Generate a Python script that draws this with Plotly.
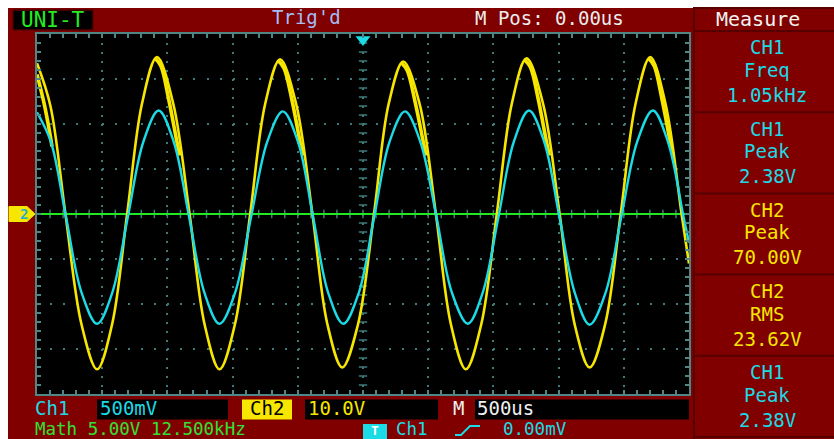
import plotly.graph_objects as go

# ---- acquisition settings -------------------------------------------------
TIME_PER_DIV = 500.0      # us / div
CH1_V_PER_DIV = 0.5       # V / div
CH2_V_PER_DIV = 10.0      # V / div
H_DIVS, V_DIVS = 10, 8

# ---- waveform samples (time in us, amplitude in V) -------------------------
CH2_T = [-2500, -2397, -2282, -2159, -2039, -1924, -1809, -1695, -1580, -1455,
         -1330, -1215, -1100, -982, -865, -750, -636, -513, -388, -273,
         -159, -38, 84, 197, 309, 434, 559, 674, 789, 907,
         1026, 1141, 1254, 1381, 1508, 1623, 1738, 1857, 1976, 2090,
         2203, 2320, 2443, 2500]
CH2_V = [33.5, 24.0, 0.0, -24.5, -34.5, -24.5, 0.0, 24.5, 34.9, 24.5,
         0.0, -24.5, -34.5, -24.5, 0.0, 24.5, 34.4, 24.5, 0.0, -24.5,
         -34.1, -24.5, 0.0, 24.5, 33.9, 24.5, 0.0, -24.5, -34.5, -24.5,
         0.0, 24.5, 34.6, 24.5, 0.0, -24.5, -34.1, -24.5, 0.0, 24.5,
         34.9, 24.5, 0.0, -11.0]

# jittered second edge seen on the falling side of each CH2 crest
CH2_JIT_T = [-2500, -2445, -2405, -2385, None,
             -1595, -1550, -1490, -1430, -1405, None,
             -651, -606, -546, -486, -461, None,
             294, 339, 399, 459, 484, None,
             1239, 1284, 1344, 1404, 1429, None,
             2188, 2233, 2293, 2353, 2378]
CH2_JIT_V = [31.0, 24.5, 18.5, 15.0, None,
             34.6, 32.9, 25.5, 16.5, 13.0, None,
             34.1, 32.4, 25.5, 16.5, 13.0, None,
             33.6, 31.9, 25.0, 16.5, 13.0, None,
             34.3, 32.6, 25.5, 16.5, 13.0, None,
             34.6, 32.9, 25.5, 16.5, 13.0]

CH1_T = [-2500, -2393, -2278, -2159, -2039, -1922, -1803, -1685, -1567, -1451,
         -1334, -1217, -1100, -980, -858, -735, -615, -498, -383, -268,
         -151, -31, 86, 203, 322, 440, 563, 681, 804, 919,
         1039, 1156, 1273, 1390, 1506, 1623, 1738, 1861, 1981, 2102,
         2223, 2339, 2458, 2500]
CH1_V = [1.13, 0.80, -0.03, -0.87, -1.22, -0.87, -0.03, 0.80, 1.15, 0.80,
         -0.03, -0.87, -1.22, -0.87, -0.03, 0.80, 1.14, 0.80, -0.03, -0.87,
         -1.22, -0.87, -0.03, 0.80, 1.14, 0.80, -0.03, -0.87, -1.22, -0.87,
         -0.03, 0.80, 1.15, 0.80, -0.03, -0.87, -1.23, -0.87, -0.03, 0.80,
         1.15, 0.80, -0.03, -0.32]

MATH_T = [-2500, 2500]
MATH_V = [0.0, 0.0]
TRIG_T = [0.0]

# ---- readouts -------------------------------------------------------------
MEAS_SRC = ["CH1", "CH1", "CH2", "CH2", "CH1"]
MEAS_KIND = ["Freq", "Peak", "Peak", "RMS", "Peak"]
MEAS_VAL = ["1.05kHz", "2.38V", "70.00V", "23.62V", "2.38V"]

CH1_SCALE = "500mV"
CH2_SCALE = "10.0V"
TIME_SCALE = "500us"
MATH_INFO = "Math 5.00V 12.500kHz"
TRIG_LEVEL = "0.00mV"
MPOS = "M Pos: 0.00us"

# ---- look -----------------------------------------------------------------
RED = "#800000"
RED_DARK = "#560000"
CYAN = "#1adbe6"
YELLOW = "#f7e600"
GREEN = "#22e822"
GRID = "#3f7a7a"
FRAME = "#4f8787"
MONO = "DejaVu Sans Mono"

W_FIG, H_FIG = 834, 439
L, T, W, H = 37, 34, 652, 360
R, B = W_FIG - L - W, H_FIG - T - H

x_half = H_DIVS / 2 * TIME_PER_DIV
y2_half = V_DIVS / 2 * CH2_V_PER_DIV
y1_half = V_DIVS / 2 * CH1_V_PER_DIV
px_per_v2 = H / (2 * y2_half)


def px(x):
    return (x - L) / W


def py(y):
    return (T + H - y) / H


def rect(x0, y0, x1, y1, fill, line=None, lw=0):
    return dict(type="rect", xref="paper", yref="paper",
                x0=px(x0), x1=px(x1), y0=py(y1), y1=py(y0),
                fillcolor=fill, line=dict(color=line or fill, width=lw),
                layer="above")


def hline(x0, x1, y, color, lw=2):
    return dict(type="line", xref="paper", yref="paper",
                x0=px(x0), x1=px(x1), y0=py(y), y1=py(y),
                line=dict(color=color, width=lw), layer="above")


def ann(text, x, y, color, size=21, xanchor="center"):
    return dict(text=text, x=px(x), y=py(y), xref="paper", yref="paper",
                showarrow=False, xanchor=xanchor, yanchor="middle",
                borderpad=0,
                font=dict(family=MONO, size=size, color=color))


fig = go.Figure()

# centre-cross graduation marks
minor_t = [i * TIME_PER_DIV / 5 - x_half for i in range(1, H_DIVS * 5)]
minor_v = [i * CH2_V_PER_DIV / 5 - y2_half for i in range(1, V_DIVS * 5)]
fig.add_trace(go.Scatter(x=[0] * len(minor_v), y=minor_v, mode="markers",
                         marker=dict(symbol="line-ew", size=6,
                                     line=dict(color=GRID, width=1.5)),
                         hoverinfo="skip", showlegend=False))
fig.add_trace(go.Scatter(x=minor_t, y=[0] * len(minor_t), mode="markers",
                         marker=dict(symbol="line-ns", size=6,
                                     line=dict(color=GRID, width=1.5)),
                         hoverinfo="skip", showlegend=False))

# math trace, CH2, CH1
fig.add_trace(go.Scatter(x=MATH_T, y=MATH_V, mode="lines",
                         line=dict(color=GREEN, width=2), showlegend=False))
fig.add_trace(go.Scatter(x=CH2_JIT_T, y=CH2_JIT_V, mode="lines",
                         line=dict(color=YELLOW, width=3.6, shape="spline"),
                         connectgaps=False, hoverinfo="skip",
                         showlegend=False))
fig.add_trace(go.Scatter(x=CH2_T, y=CH2_V, mode="lines", name="CH2",
                         line=dict(color=YELLOW, width=2.6, shape="spline",
                                   smoothing=1.0), showlegend=False))
fig.add_trace(go.Scatter(x=CH1_T, y=CH1_V, mode="lines", name="CH1",
                         yaxis="y2",
                         line=dict(color=CYAN, width=2.4, shape="spline",
                                   smoothing=1.0), showlegend=False))

# trigger position marker at the top of the graticule
fig.add_trace(go.Scatter(x=TRIG_T, y=[y2_half - 5.5 / px_per_v2], mode="markers",
                         marker=dict(symbol="triangle-down", size=13, color=CYAN),
                         cliponaxis=False, hoverinfo="skip", showlegend=False))

axis_common = dict(showticklabels=False, zeroline=False, showline=True,
                   linecolor=FRAME, linewidth=2, mirror="ticks",
                   ticks="inside", ticklen=4, tickcolor=FRAME, tickwidth=1.5)

fig.update_layout(
    width=W_FIG, height=H_FIG,
    margin=dict(l=L, r=R, t=T, b=B, pad=0),
    paper_bgcolor=RED, plot_bgcolor="black",
    xaxis=dict(range=[-x_half, x_half], dtick=TIME_PER_DIV, tick0=0,
               showgrid=True, gridcolor=GRID, gridwidth=1.6, griddash="2px,7px",
               minor=dict(dtick=TIME_PER_DIV / 5, ticks="inside", ticklen=4,
                          tickcolor=FRAME, tickwidth=1.5, showgrid=False),
               **axis_common),
    yaxis=dict(range=[-y2_half, y2_half], dtick=CH2_V_PER_DIV, tick0=0,
               showgrid=True, gridcolor=GRID, gridwidth=1.6,
               griddash="2px,11.04px",
               minor=dict(dtick=CH2_V_PER_DIV / 5, ticks="inside", ticklen=4,
                          tickcolor=FRAME, tickwidth=1.5, showgrid=False),
               **axis_common),
    yaxis2=dict(range=[-y1_half, y1_half], overlaying="y", visible=False),
)

shapes = []
# white edge of the capture
shapes.append(rect(0, 0, W_FIG, 8, "white"))
shapes.append(rect(0, 0, 8, H_FIG, "white"))

# top bar
shapes.append(rect(13, 10, 93, 30, "black", RED_DARK, 1.5))
shapes.append(rect(694, 8, W_FIG + 2, 31, RED, RED_DARK, 2))

# measurement boxes
box_top, box_h = 31.0, 81.2
for i in range(len(MEAS_VAL)):
    shapes.append(hline(694, W_FIG, box_top + box_h * (i + 1), RED_DARK, 2))
shapes.append(dict(type="line", xref="paper", yref="paper",
                   x0=px(694), x1=px(694), y0=py(box_top), y1=py(H_FIG),
                   line=dict(color=RED_DARK, width=2), layer="above"))

# bottom readout boxes
shapes.append(rect(97, 399.5, 228, 419.5, "black"))
shapes.append(rect(242, 399.5, 292, 419.5, YELLOW))
shapes.append(rect(305, 399.5, 438, 419.5, "black"))
shapes.append(rect(475, 399.5, 689, 419.5, "black"))
shapes.append(rect(363, 424, 387, 442, CYAN))

# trigger slope glyph
slope = [(455, 435), (461, 435), (470, 426), (480, 426)]
shapes.append(dict(type="path", xref="paper", yref="paper",
                   path="M " + " L ".join(f"{px(a):.5f},{py(b):.5f}" for a, b in slope),
                   line=dict(color=CYAN, width=2), layer="above"))

# CH2 ground marker on the left edge
hh = 7.5 / px_per_v2
marker_path = (f"M {px(9)},{hh} L {px(27)},{hh} L {px(35)},0 "
               f"L {px(27)},{-hh} L {px(9)},{-hh} Z")
shapes.append(dict(type="path", xref="paper", yref="y", path=marker_path,
                   fillcolor=YELLOW, line=dict(color=YELLOW, width=1),
                   layer="above"))

annotations = [
    ann("UNI-T", 53, 20.5, "#22ee22", 21),
    ann("Trig'd", 306, 17.5, "#a6bcf4", 19),
    ann(MPOS, 549, 18.5, "#ececec", 19),
    ann("Measure", 758, 19.5, "#f2f2f2", 20),
    dict(text="<b>2</b>", x=px(18), y=0, xref="paper", yref="y",
         showarrow=False, font=dict(family=MONO, size=14, color="#2aaed0")),
]

for i, (src, kind, val) in enumerate(zip(MEAS_SRC, MEAS_KIND, MEAS_VAL)):
    top = box_top + box_h * i
    col = CYAN if src == "CH1" else YELLOW
    annotations.append(ann(src, 767, top + 16.5, col, 19))
    annotations.append(ann(kind, 767, top + 39, col, 19))
    annotations.append(ann(val, 767, top + 64, col, 19))

annotations += [
    ann("Ch1", 34, 408, CYAN, 19, xanchor="left"),
    ann(CH1_SCALE, 99, 408, CYAN, 19, xanchor="left"),
    ann("Ch2", 267, 408, "black", 19),
    ann(CH2_SCALE, 307, 408, YELLOW, 19, xanchor="left"),
    ann("M", 452, 408, "#f0f0f0", 19, xanchor="left"),
    ann(TIME_SCALE, 476, 408, "#f0f0f0", 19, xanchor="left"),
    ann(MATH_INFO, 34, 429.3, "#33e033", 17.5, xanchor="left"),
    ann("<b>T</b>", 375, 430, "white", 13),
    ann("Ch1", 395, 429.3, CYAN, 17.5, xanchor="left"),
    ann(TRIG_LEVEL, 502, 429.3, CYAN, 17.5, xanchor="left"),
]

fig.update_layout(shapes=shapes, annotations=annotations)
fig.write_html("out.html")
